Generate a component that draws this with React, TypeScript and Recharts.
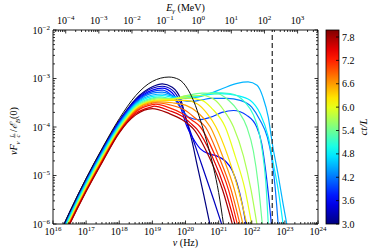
import React from "react";
import { LineChart, Line, XAxis, YAxis, ReferenceLine } from "recharts";

type Pt = [number, number];

// x = log10(nu / Hz), y = log10(nu F_nu L/c / E_B(0))
const CURVE_BLACK: Pt[] = [
  [16.2, -6.2], [16.5, -5.76], [17, -5.06], [17.5, -4.42], [18, -3.83], [18.5, -3.35],
  [19, -3.06], [19.5, -2.97], [19.8, -3.02], [20.05, -3.2], [20.25, -3.47], [20.45, -3.86],
  [20.65, -4.32], [20.85, -4.85], [21.0, -5.35], [21.15, -6.02],
];
const CURVE_30: Pt[] = [
  [16.2, -6.2], [16.5, -5.76], [17, -5.07], [17.5, -4.44], [18, -3.87], [18.5, -3.42],
  [19, -3.17], [19.3, -3.11], [19.6, -3.18], [19.85, -3.42], [20.05, -3.92], [20.2, -4.3],
  [20.35, -4.78], [20.55, -5.4], [20.75, -6.05],
];
const CURVE_33: Pt[] = [
  [16.2, -6.21], [16.5, -5.77], [17, -5.08], [17.5, -4.45], [18, -3.88], [18.5, -3.44],
  [19, -3.2], [19.3, -3.16], [19.6, -3.24], [19.85, -3.5], [20.05, -3.9], [20.2, -4.2],
  [20.4, -4.6], [20.6, -5.0], [20.85, -5.5], [21.1, -6.02],
];
const CURVE_36: Pt[] = [
  [16.2, -6.22], [16.5, -5.78], [17, -5.09], [17.5, -4.46], [18, -3.89], [18.5, -3.46],
  [19, -3.24], [19.3, -3.2], [19.6, -3.3], [19.85, -3.6], [20.05, -4.0], [20.2, -4.2],
  [20.45, -4.45], [20.7, -4.55], [20.95, -4.6], [21.2, -4.7], [21.4, -4.88], [21.55, -5.15],
  [21.7, -5.55], [21.83, -6.02],
];
const CURVE_39: Pt[] = [
  [16.2, -6.24], [16.5, -5.8], [17, -5.11], [17.5, -4.48], [18, -3.91], [18.5, -3.48],
  [19, -3.27], [19.3, -3.24], [19.6, -3.36], [19.85, -3.6], [20.1, -3.8], [20.4, -3.85],
  [20.75, -3.8], [21.1, -3.7], [21.45, -3.66], [21.85, -3.76], [22.15, -4.0], [22.3, -4.34],
  [22.42, -4.9], [22.52, -5.5], [22.6, -6.05],
];
const CURVE_42: Pt[] = [
  [16.2, -6.26], [16.5, -5.82], [17, -5.13], [17.5, -4.5], [18, -3.93], [18.5, -3.5],
  [19, -3.3], [19.3, -3.28], [19.6, -3.35], [19.9, -3.45], [20.2, -3.47], [20.5, -3.44],
  [20.75, -3.41], [21.25, -3.41], [21.65, -3.45], [22.0, -3.59], [22.25, -3.86], [22.47, -4.21],
  [22.58, -4.55], [22.7, -5.2], [22.8, -6.02],
];
const CURVE_45: Pt[] = [
  [16.2, -6.28], [16.5, -5.84], [17, -5.15], [17.5, -4.52], [18, -3.95], [18.5, -3.52],
  [19, -3.34], [19.3, -3.32], [19.7, -3.38], [20.0, -3.41], [20.4, -3.38], [20.74, -3.31],
  [21.14, -3.2], [21.56, -3.1], [21.89, -3.07], [22.16, -3.14], [22.34, -3.39], [22.5, -3.8],
  [22.62, -4.34], [22.8, -5.0], [22.95, -5.6], [23.07, -6.05],
];
const CURVE_48: Pt[] = [
  [16.2, -6.3], [16.5, -5.86], [17, -5.17], [17.5, -4.54], [18, -3.97], [18.5, -3.54],
  [19, -3.37], [19.3, -3.35], [19.7, -3.4], [20.0, -3.4], [20.44, -3.36], [21.05, -3.31],
  [21.56, -3.35], [21.95, -3.45], [22.25, -3.72], [22.5, -4.21], [22.65, -4.75], [22.8, -5.3],
  [22.95, -6.02],
];
const CURVE_51: Pt[] = [
  [16.2, -6.32], [16.5, -5.88], [17, -5.19], [17.5, -4.56], [18, -3.99], [18.5, -3.56],
  [19, -3.4], [19.25, -3.38], [19.6, -3.42], [20.0, -3.38], [20.44, -3.35], [20.83, -3.29],
  [21.35, -3.31], [21.8, -3.49], [22.05, -3.75], [22.2, -4.05], [22.32, -4.5], [22.42, -5.1],
  [22.5, -6.02],
];
const CURVE_54: Pt[] = [
  [16.2, -6.34], [16.5, -5.9], [17, -5.21], [17.5, -4.58], [18, -4.01], [18.5, -3.58],
  [19, -3.42], [19.2, -3.4], [19.6, -3.42], [20.0, -3.36], [20.5, -3.3], [21.0, -3.32],
  [21.3, -3.45], [21.6, -3.68], [21.85, -4.0], [22.05, -4.5], [22.2, -5.2], [22.32, -6.02],
];
const CURVE_57: Pt[] = [
  [16.2, -6.36], [16.5, -5.92], [17, -5.23], [17.5, -4.6], [18, -4.03], [18.5, -3.6],
  [19, -3.44], [19.2, -3.42], [19.6, -3.42], [20.0, -3.36], [20.5, -3.35], [20.9, -3.45],
  [21.15, -3.65], [21.45, -4.0], [21.75, -4.6], [21.98, -5.3], [22.16, -6.02],
];
const CURVE_60: Pt[] = [
  [16.2, -6.38], [16.5, -5.94], [17, -5.25], [17.5, -4.62], [18, -4.05], [18.5, -3.62],
  [19, -3.46], [19.2, -3.44], [19.6, -3.43], [20.0, -3.4], [20.5, -3.45], [20.8, -3.62],
  [21.2, -4.0], [21.5, -4.6], [21.8, -5.3], [22.0, -6.02],
];
const CURVE_63: Pt[] = [
  [16.2, -6.4], [16.5, -5.96], [17, -5.27], [17.5, -4.64], [18, -4.07], [18.5, -3.64],
  [19, -3.47], [19.2, -3.46], [19.6, -3.45], [20.0, -3.45], [20.35, -3.52], [20.65, -3.72],
  [20.92, -4.0], [21.28, -4.6], [21.6, -5.3], [21.86, -6.02],
];
const CURVE_66: Pt[] = [
  [16.2, -6.41], [16.5, -5.97], [17, -5.29], [17.5, -4.66], [18, -4.08], [18.5, -3.65],
  [19, -3.49], [19.15, -3.48], [19.6, -3.5], [20.0, -3.55], [20.4, -3.72], [20.75, -4.0],
  [21.12, -4.6], [21.48, -5.3], [21.74, -6.02],
];
const CURVE_69: Pt[] = [
  [16.2, -6.42], [16.5, -5.98], [17, -5.3], [17.5, -4.67], [18, -4.09], [18.5, -3.67],
  [19, -3.51], [19.1, -3.5], [19.5, -3.54], [20.0, -3.66], [20.3, -3.82], [20.6, -4.0],
  [21.0, -4.6], [21.38, -5.3], [21.65, -6.02],
];
const CURVE_72: Pt[] = [
  [16.2, -6.43], [16.5, -5.99], [17, -5.31], [17.5, -4.68], [18, -4.1], [18.5, -3.69],
  [19, -3.54], [19.1, -3.53], [19.5, -3.6], [19.9, -3.72], [20.2, -3.86], [20.45, -4.0],
  [20.9, -4.6], [21.3, -5.3], [21.57, -6.02],
];
const CURVE_75: Pt[] = [
  [16.2, -6.44], [16.5, -6.0], [17, -5.32], [17.5, -4.7], [18, -4.11], [18.5, -3.72],
  [19, -3.58], [19.05, -3.57], [19.5, -3.66], [19.9, -3.78], [20.15, -3.92], [20.35, -4.05],
  [20.8, -4.6], [21.2, -5.3], [21.5, -6.02],
];
const CURVE_78: Pt[] = [
  [16.2, -6.45], [16.5, -6.01], [17, -5.33], [17.5, -4.71], [18, -4.12], [18.5, -3.75],
  [19, -3.62], [19.5, -3.72], [19.9, -3.85], [20.1, -3.95], [20.25, -4.05], [20.7, -4.6],
  [21.12, -5.3], [21.42, -6.02],
];

const CT_L = [3.0, 3.3, 3.6, 3.9, 4.2, 4.5, 4.8, 5.1, 5.4, 5.7, 6.0, 6.3, 6.6, 6.9, 7.2, 7.5, 7.8];
const CURVES = [
  CURVE_30, CURVE_33, CURVE_36, CURVE_39, CURVE_42, CURVE_45, CURVE_48, CURVE_51, CURVE_54,
  CURVE_57, CURVE_60, CURVE_63, CURVE_66, CURVE_69, CURVE_72, CURVE_75, CURVE_78,
];

const NU_DECADES = [16, 17, 18, 19, 20, 21, 22, 23, 24];
const FLUX_DECADES = [-6, -5, -4, -3, -2];
const E_DECADES = [-5, -4, -3, -2, -1, 0, 1, 2, 3];
const CBAR_TICKS = [3.0, 3.6, 4.2, 4.8, 5.4, 6.0, 6.6, 7.2, 7.8];
const LOG_HZ_PER_MEV = 20.3835;
const DASHED_NU = 22.62;

const CBAR_MIN = 3.0;
const CBAR_MAX = 7.98;

const W = 374;
const H = 249;
const PLOT = { left: 53, right: 318, top: 30, bottom: 224 };
const FONT = "'Liberation Serif', 'DejaVu Serif', serif";

function jet(t: number) {
  const c = (v: number) => Math.round(255 * Math.max(0, Math.min(1, v)));
  const r = c(Math.min(4 * t - 1.5, -4 * t + 4.5));
  const g = c(Math.min(4 * t - 0.5, -4 * t + 3.5));
  const b = c(Math.min(4 * t + 0.5, -4 * t + 2.5));
  return `rgb(${r},${g},${b})`;
}
const ctColor = (v: number) => jet((v - CBAR_MIN) / (CBAR_MAX - CBAR_MIN));

// major + minor (2..9) log ticks inside [lo, hi]
function logTicks(decades: number[], offset: number, lo: number, hi: number) {
  const out: number[] = [];
  decades.forEach((d) => {
    for (let k = 1; k <= 9; k++) {
      const v = d + offset + Math.log10(k);
      if (v >= lo - 1e-9 && v <= hi + 1e-9) out.push(v);
    }
  });
  return out;
}

const fmtExp = (e: number) => (e < 0 ? "\u2212" + Math.abs(e) : String(e));

// eslint-disable-next-line @typescript-eslint/no-explicit-any
function LogTick(props: any) {
  const { x, y, payload, side, offset = 0 } = props;
  const v = payload.value - offset;
  const e = Math.round(v);
  const major = Math.abs(v - e) < 1e-6;
  const len = major ? 3.5 : 2;
  let line;
  let label = null;
  if (side === "bottom") {
    line = <line x1={x} y1={y} x2={x} y2={y - len} stroke="#000" strokeWidth={0.8} />;
    if (major)
      label = (
        <text x={x} y={y + 11} textAnchor="middle" fontSize={10} fontFamily={FONT} fill="#000">
          10<tspan dy={-4} fontSize={7}>{fmtExp(e)}</tspan>
        </text>
      );
  } else if (side === "top") {
    line = <line x1={x} y1={y} x2={x} y2={y + len} stroke="#000" strokeWidth={0.8} />;
    if (major)
      label = (
        <text x={x} y={y - 6} textAnchor="middle" fontSize={10} fontFamily={FONT} fill="#000">
          10<tspan dy={-4} fontSize={7}>{fmtExp(e)}</tspan>
        </text>
      );
  } else if (side === "left") {
    line = <line x1={x} y1={y} x2={x + len} y2={y} stroke="#000" strokeWidth={0.8} />;
    if (major)
      label = (
        <text x={x - 3} y={y + 3.5} textAnchor="end" fontSize={10} fontFamily={FONT} fill="#000">
          10<tspan dy={-4} fontSize={7}>{fmtExp(e)}</tspan>
        </text>
      );
  } else {
    line = <line x1={x} y1={y} x2={x - len} y2={y} stroke="#000" strokeWidth={0.8} />;
  }
  return (
    <g>
      {line}
      {label}
    </g>
  );
}

const toRows = (pts: Pt[]) => pts.map(([x, y]) => ({ x, y }));

function Overlay() {
  const cbX = 326;
  const cbW = 13;
  const cbY = (v: number) =>
    PLOT.bottom - ((v - CBAR_MIN) / (CBAR_MAX - CBAR_MIN)) * (PLOT.bottom - PLOT.top);
  const stops = Array.from({ length: 21 }, (_, i) => i / 20);
  const cx = (PLOT.left + PLOT.right) / 2;
  return (
    <svg
      width={W}
      height={H}
      style={{ position: "absolute", left: 0, top: 0, pointerEvents: "none" }}
    >
      <defs>
        <linearGradient id="jetbar" x1="0" y1="1" x2="0" y2="0">
          {stops.map((t) => (
            <stop key={t} offset={t} stopColor={jet(t)} />
          ))}
        </linearGradient>
      </defs>
      <rect
        x={cbX}
        y={PLOT.top}
        width={cbW}
        height={PLOT.bottom - PLOT.top}
        fill="url(#jetbar)"
        stroke="#000"
        strokeWidth={0.8}
      />
      {CBAR_TICKS.map((v) => (
        <g key={v}>
          <line x1={cbX + cbW} y1={cbY(v)} x2={cbX + cbW - 3} y2={cbY(v)} stroke="#000" strokeWidth={0.8} />
          <text x={cbX + cbW + 3} y={cbY(v) + 3.5} fontSize={10} fontFamily={FONT} fill="#000">
            {v.toFixed(1)}
          </text>
        </g>
      ))}
      <text
        transform={`translate(367, ${(PLOT.top + PLOT.bottom) / 2}) rotate(-90)`}
        textAnchor="middle"
        fontSize={11}
        fontFamily={FONT}
        fontStyle="italic"
        fill="#000"
      >
        ct/L
      </text>
      <text x={cx} y={246} textAnchor="middle" fontSize={10} fontFamily={FONT} fill="#000">
        <tspan fontStyle="italic">ν</tspan> (Hz)
      </text>
      <text x={cx} y={10.5} textAnchor="middle" fontSize={10} fontFamily={FONT} fill="#000">
        <tspan fontStyle="italic">E</tspan>
        <tspan dy={2.5} fontSize={7} fontStyle="italic">γ</tspan>
        <tspan dy={-2.5}> (MeV)</tspan>
      </text>
      <g transform={`translate(17, ${(PLOT.top + PLOT.bottom) / 2}) rotate(-90)`}>
        <text x={-28} y={0} fontSize={10} fontFamily={FONT} fill="#000">
          <tspan fontStyle="italic">νF</tspan>
          <tspan dy={2.5} fontSize={7} fontStyle="italic">ν</tspan>
        </text>
        <text x={-10.5} y={-3.5} fontSize={6.5} fontFamily={FONT} fontStyle="italic" fill="#000">
          L
        </text>
        <line x1={-11} y1={-2.2} x2={-6.5} y2={-2.2} stroke="#000" strokeWidth={0.5} />
        <text x={-10.5} y={3} fontSize={6.5} fontFamily={FONT} fontStyle="italic" fill="#000">
          c
        </text>
        <text x={-5} y={0} fontSize={10} fontFamily={FONT} fill="#000">
          /<tspan fontStyle="italic">ℰ</tspan>
          <tspan dy={2.5} fontSize={7} fontStyle="italic">B</tspan>
          <tspan dy={-2.5}>(0)</tspan>
        </text>
      </g>
    </svg>
  );
}

export default function App() {
  const nuTicks = logTicks(NU_DECADES, 0, 16, 24);
  const eTicks = logTicks(E_DECADES, LOG_HZ_PER_MEV, 16, 24);
  const fluxTicks = logTicks(FLUX_DECADES, 0, -6, -2);
  return (
    <div
      style={{
        position: "absolute",
        left: 0,
        top: 0,
        width: W,
        height: H,
        background: "#fff",
        fontFamily: FONT,
      }}
    >
      <LineChart width={W} height={H} margin={{ top: 0, right: 0, bottom: 0, left: 0 }}>
        <XAxis
          dataKey="x"
          type="number"
          domain={[16, 24]}
          allowDataOverflow
          ticks={nuTicks}
          interval={0}
          tickSize={0}
          tickMargin={0}
          height={H - PLOT.bottom}
          axisLine={{ stroke: "#000", strokeWidth: 0.9 }}
          tickLine={false}
          tick={<LogTick side="bottom" />}
        />
        <XAxis
          xAxisId="top"
          orientation="top"
          dataKey="x"
          type="number"
          domain={[16, 24]}
          allowDataOverflow
          ticks={eTicks}
          interval={0}
          tickSize={0}
          tickMargin={0}
          height={PLOT.top}
          axisLine={{ stroke: "#000", strokeWidth: 0.9 }}
          tickLine={false}
          tick={<LogTick side="top" offset={LOG_HZ_PER_MEV} />}
        />
        <YAxis
          dataKey="y"
          type="number"
          domain={[-6, -2]}
          allowDataOverflow
          ticks={fluxTicks}
          interval={0}
          tickSize={0}
          tickMargin={0}
          width={PLOT.left}
          axisLine={{ stroke: "#000", strokeWidth: 0.9 }}
          tickLine={false}
          tick={<LogTick side="left" />}
        />
        <YAxis
          yAxisId="right"
          orientation="right"
          type="number"
          domain={[-6, -2]}
          allowDataOverflow
          ticks={fluxTicks}
          interval={0}
          tickSize={0}
          tickMargin={0}
          width={W - PLOT.right}
          axisLine={{ stroke: "#000", strokeWidth: 0.9 }}
          tickLine={false}
          tick={<LogTick side="right" />}
        />
        {CURVES.map((pts, i) => (
          <Line
            key={CT_L[i]}
            data={toRows(pts)}
            dataKey="y"
            type="monotone"
            dot={false}
            stroke={ctColor(CT_L[i])}
            strokeWidth={1.2}
            isAnimationActive={false}
          />
        ))}
        <Line
          data={toRows(CURVE_BLACK)}
          dataKey="y"
          type="monotone"
          dot={false}
          stroke="#111"
          strokeWidth={1}
          isAnimationActive={false}
        />
        <ReferenceLine x={DASHED_NU} stroke="#444" strokeWidth={1.4} strokeDasharray="5 3" />
      </LineChart>
      <Overlay />
    </div>
  );
}
